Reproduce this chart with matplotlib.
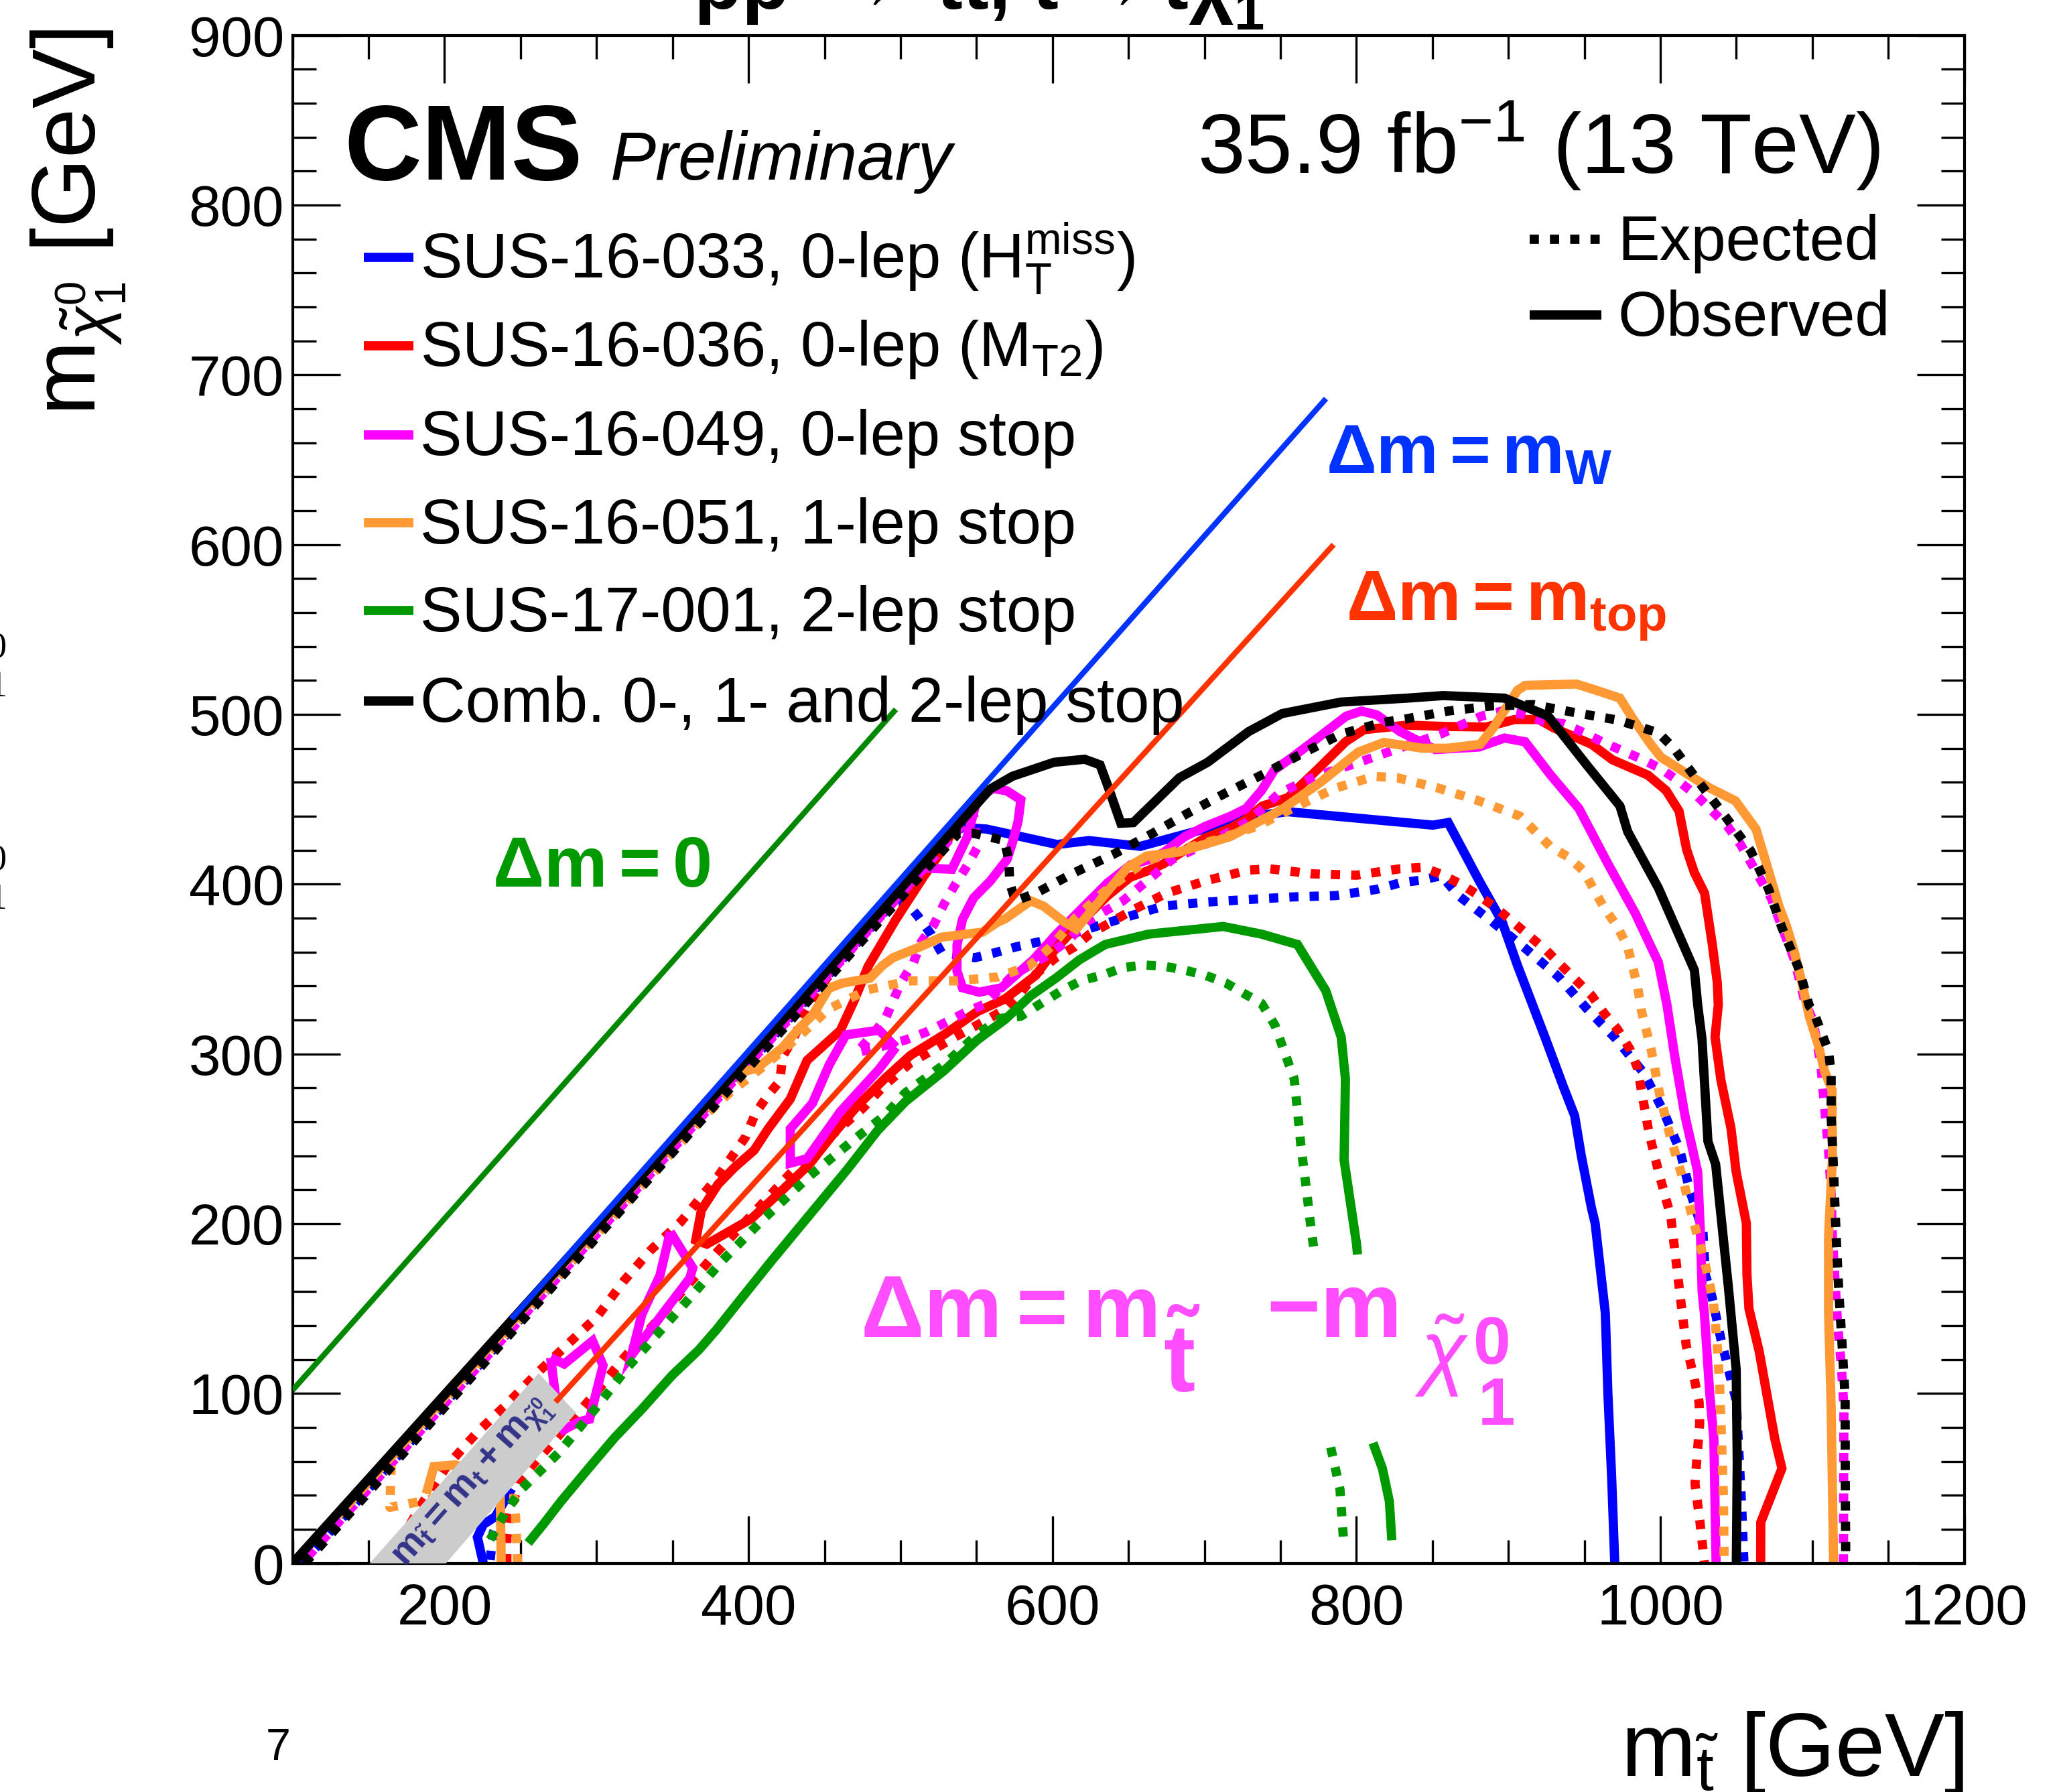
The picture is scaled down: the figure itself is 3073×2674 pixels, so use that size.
import matplotlib
matplotlib.use('Agg')
import matplotlib.pyplot as plt
from matplotlib.ticker import MultipleLocator
from matplotlib.patches import Polygon

plt.rcParams['font.family'] = ['Liberation Sans', 'DejaVu Sans']
plt.rcParams['mathtext.fontset'] = 'custom'
plt.rcParams['mathtext.rm'] = 'Liberation Sans'
plt.rcParams['mathtext.it'] = 'Liberation Sans:italic'
plt.rcParams['mathtext.bf'] = 'Liberation Sans:bold'
plt.rcParams['mathtext.sf'] = 'Liberation Sans'

# ---------------- data (GeV) ----------------
# SUS-16-033 (blue)
BLUE_OBS_X = [240, 530, 540.8, 556.6, 603, 624.1, 657.8, 700, 725.3, 754.8, 850.3, 860.4, 880.6, 895.8,
              905.9, 924.5, 936.2, 943.6, 948, 954.7, 957.1, 963.8, 965.5, 968, 970]
BLUE_OBS_Y = [138, 428, 433.4, 432.5, 423.4, 425.7, 422.3, 432.5, 439.3, 442.7, 434.8, 436.3, 402.3, 378.1,
              352.4, 308.9, 280.7, 263.7, 240, 209.2, 200.3, 147.4, 100, 50, 0]
BLUE_OBS2_X = [225.5, 221.6, 225.5, 233.4, 244.2]
BLUE_OBS2_Y = [0, 15.4, 22.9, 27.5, 44]
BLUE_EXP_X = [106, 495, 503.4, 511.8, 520.3, 527, 548.9, 562.4, 575.6, 590.8, 617.8, 644.7, 673.5, 702.1,
              729.1, 757.8, 786.5, 813.5, 828.7, 841.8, 856, 867.1, 889.1, 911, 932.9, 951.5, 970.6, 989.2,
              1001.8, 1012.8, 1019.5, 1028, 1029.6, 1033.9, 1039.8, 1046.5, 1049.9, 1052, 1053.7, 1055]
BLUE_EXP_Y = [0, 389, 389.9, 380.8, 370.3, 359.7, 356.7, 359.7, 363, 366, 372.1, 379.6, 387.2, 389.5,
              391, 392.5, 393.3, 397, 400.8, 402.3, 405, 393.3, 378.1, 362.3, 345.6, 326.8, 309.1, 288.7,
              266.8, 243.4, 219.2, 195.8, 170.1, 157.2, 132.3, 108.2, 96, 60, 30, 0]
BLUE_EXP2_X = [230, 232, 238, 247]
BLUE_EXP2_Y = [2, 18, 32, 46]

# SUS-16-036 (red)
RED_OBS_X = [536, 528, 515.2, 497, 478.7, 469.5, 460.4, 438.5, 427.5, 412.9, 403.7, 390.9, 379.9, 369,
             365.3, 372.6, 401.9, 420.2, 440, 455, 471.3, 489.9, 506.7, 528.7, 550.6, 568.9, 589.1, 602,
             619, 636, 651, 663, 673, 687, 700, 717, 727, 738, 755, 776, 793, 805, 833.4, 858.7, 885.6,
             904, 920, 930, 954.8, 968.4, 991.9, 1003.8, 1012.3, 1017.3, 1022.4, 1029.1, 1034.2, 1037.5,
             1038.1, 1036, 1039.8, 1046.5, 1049.9, 1056.6, 1057, 1058.3, 1065, 1070, 1075.3, 1080,
             1072.3, 1066.1, 1066]
RED_OBS_Y = [434, 420.8, 404.4, 379.3, 351.6, 331.4, 313.8, 296.2, 273.5, 255.9, 243.3, 233.3, 223.2, 208.1,
             190.4, 188, 203, 218.1, 235, 252, 269.1, 285.7, 299.3, 311.4, 325, 332.5, 346.4, 362,
             378, 393, 404, 408, 412, 420, 427, 433, 438, 446, 451, 469, 484, 491, 493.7, 492.9, 492.6,
             497, 497, 492, 482.4, 473.3, 464.2, 455.2, 443.1, 420.4, 406.8, 394.7, 364.5, 341.9,
             328.7, 310, 284.9, 256.2, 230.5, 200.3, 170, 150, 125, 100, 73.5, 55.9,
             38.3, 24.2, 0]
RED_EXP_UP_X = [170, 176.3, 186.2, 201.9, 221.6, 241.3, 261, 280.6, 300.4, 318.1, 335.8, 355.5, 380, 398,
                404.7, 412.3, 420.7, 422.4, 430, 435.9, 442.6, 456, 468]
RED_EXP_UP_Y = [0, 21.4, 36.6, 57.7, 77.3, 94, 112.1, 128.7, 145.3, 166.5, 184.6, 201.2, 228, 251,
                265.3, 275.1, 284.2, 298.5, 309.8, 321.9, 332.5, 350.6, 362]
RED_EXP_X = [241, 241, 243, 250, 272, 298, 318, 338, 357, 381, 405, 430, 452, 474.7, 490, 506.7, 535.5,
             557.4, 568.9, 579, 589, 602.6, 614.4, 624.5, 651.5, 675.1, 702.1, 729.1, 742.6, 771.3, 800,
             828.7, 843.4, 855.3, 868.8, 880.6, 892.4, 902.5, 914.4, 924.5, 934.6, 944.7, 954.9, 963.3,
             971.7, 979.9, 985, 987.5, 992.6, 999.3, 1006.9, 1010.3, 1013.6, 1017, 1022, 1025.5, 1025.9,
             1024.3, 1022.8, 1026, 1029]
RED_EXP_Y = [0, 15, 30, 50, 72, 99, 121, 141, 161, 185, 208, 232, 250, 267.6, 282, 294.8, 309.8,
             320.4, 326.5, 336, 347, 357, 363, 370.6, 384.2, 394.7, 402.3, 408.3, 409.1, 406.1, 405.3,
             409.1, 409.9, 406.1, 400, 393.3, 385.7, 378.1, 369, 361.5, 352.4, 343.4, 334.3, 323.7,
             314.7, 303, 291.7, 278.8, 253.2, 229, 204.1, 178.4, 153.5, 128.5, 110, 95, 82.3,
             64.7, 47.1, 25, 0]

# SUS-16-049 (magenta)
MAG_OBS_X = [100, 515.2, 533.8, 543.9, 550.6, 560.8, 570, 579.2, 577.4, 573.7, 570.1, 559.1, 548.1, 540.8,
             537.2, 537.2, 540.8, 551.8, 566.4, 587.4, 602.6, 619.4, 636.3, 651.5, 663.3, 673.5, 687,
             700.4, 717.3, 727.4, 737.6, 746, 757.8, 771.3, 793.3, 803.4, 813.5, 828.7, 851.9, 880.6,
             897.5, 911, 927.9, 946.4, 965, 983.6, 998.7, 1004.4, 1009.5, 1016.2, 1024.6, 1026.5, 1027.5,
             1029, 1032.5, 1035.2, 1036.7]
MAG_OBS_Y = [0, 409.5, 408.8, 427.7, 450.4, 456.4, 455, 449.7, 437.1, 424.6, 414.5, 401.9, 391.9, 379.3,
             364.1, 349, 339, 336.4, 339, 355.5, 370.6, 385.7, 400.8, 411.4, 414.4, 418.9, 428,
             434, 440.1, 444.6, 455.2, 467.3, 474.8, 483.9, 499, 502, 499.7, 489.9, 479.3, 480.8,
             486.1, 483.9, 464.2, 444.6, 412.9, 382.7, 354, 328.7, 298.5, 263.7, 230.5, 192, 160,
             147, 100, 73.5, 0]
MAG_ISL_A_X = [497, 486, 464.1, 453.1, 442.1, 427.5, 427.5, 438.5, 460.4, 486, 497]
MAG_ISL_A_Y = [304, 314, 311.3, 293.6, 271, 255.9, 235.7, 238.3, 266, 291.1, 304]
MAG_ISL_B_X = [348.5, 363.3, 361.4, 331.8, 323, 329.9, 341.7, 348.5]
MAG_ISL_B_Y = [195.2, 174, 168, 133.2, 122.6, 146.8, 169.5, 195.2]
MAG_ISL_C_X = [269.8, 278.7, 297.4, 304.3, 295.4, 288.5, 278.7, 272.8, 269.8]
MAG_ISL_C_Y = [121.1, 117.4, 131, 116.6, 84.9, 83.4, 78.8, 100, 121.1]
MAG_EXP_X = [110, 548, 550.6, 543.9, 535.5, 528.7, 522, 513.5, 508.5, 500, 495, 489.9, 479.8, 471.3,
             490, 503.4, 516.9, 530.4, 543.9, 555.7, 573.9, 597.5, 611, 622.8, 646.4, 666.7, 678.5,
             703.8, 729.1, 749.4, 773, 801.7, 830.4, 855.3, 868.8, 882.3, 895.8, 910, 922.8, 936.3,
             949.8, 961.6, 975.1, 988.6, 1000.4, 1012.3, 1024.1, 1034.2, 1044.3, 1052.8, 1059.5, 1066.2,
             1073, 1078, 1083.1, 1088.2, 1094.9, 1100.5, 1105.6, 1108.1, 1110.7, 1112.4, 1113.2, 1114.9,
             1116.6, 1119.1, 1120.8, 1120.5]
MAG_EXP_Y = [4, 442, 421.7, 411, 399, 388.4, 376.3, 365.7, 353.7, 341.6, 331, 320.4, 309.8, 300.8,
             305, 308.3, 312.9, 318.9, 325, 329.5, 346.4, 358.5, 367.5, 378.1, 390.2, 405.3, 414.4,
             424.9, 437.1, 453.7, 463.5, 471.8, 480.8, 488.4, 493.7, 499, 502, 500, 496, 494.5,
             489.2, 483.9, 478.6, 473.3, 468, 460.5, 452.1, 443.1, 434, 423.4, 412.9, 402.3,
             391.7, 379.6, 367.5, 355.5, 331.3, 319.6, 294, 268.3, 243.4, 217.7, 192.7, 167.1,
             141.4, 116.4, 91.8, 0]

# SUS-16-051 (orange)
ORA_OBS_X = [130, 390, 405.6, 422.4, 432.6, 442.6, 452.8, 461.2, 479.8, 488.2, 495, 511.8, 527, 554,
             564.2, 568.8, 585.7, 594.1, 607.2, 615.6, 628.3, 649.4, 662, 683.1, 716.8, 750.6, 775.9,
             801.2, 818.1, 843.4, 860.3, 881.4, 890, 905.9, 911, 944.8, 958.2, 973.4, 981.9, 993.7,
             1000.4, 1019, 1032.5, 1049.4, 1062.9, 1068, 1073, 1078, 1083.1, 1088.2, 1093.2, 1098,
             1104, 1108, 1113, 1113.2, 1110.7, 1110.7, 1112.4, 1114]
ORA_OBS_Y = [28, 288, 291.7, 303.8, 314.4, 323.4, 338.6, 341.6, 344.6, 352.1, 356.7, 362.7, 368.8, 371.8,
             377.8, 379.6, 390.2, 387.1, 378.1, 373.6, 387.2, 409.9, 416.6, 418.9, 428, 443.8, 459.7,
             477.8, 483.5, 480.1, 480.1, 482.4, 492, 514.1, 517.1, 517.9, 514.1, 509.6, 497.5, 482.4,
             474.8, 464.2, 456.7, 449.1, 432.5, 417.4, 402.3, 387.2, 375.1, 360, 341.9, 322.2,
             305, 290, 278.8, 238.1, 192.7, 147.4, 91.8, 0]
ORA_OBS2_X = [188, 193, 207, 236.5, 237.3]
ORA_OBS2_Y = [41, 57, 58, 50, 0]
ORA_EXP_X = [248, 247, 246, 205, 164, 165, 360, 368.5, 388.7, 410.6, 432.5, 452.8, 478.1, 506.7, 537.1,
             564.2, 585, 600, 615, 632.9, 660, 678.5, 708.9, 734.2, 761.2, 786.5, 811.8, 827, 840.1,
             853.6, 867.1, 880.6, 894.1, 907.6, 917.8, 927.9, 939.7, 949.8, 956.6, 963.3, 971.7, 978.5,
             981.9, 985.2, 987.5, 994.2, 999.3, 1006, 1014.5, 1021.2, 1028.8, 1034.8, 1037.3, 1039,
             1040, 1041.5, 1042]
ORA_EXP_Y = [0, 23, 38, 40, 33, 62, 252, 261.5, 278.1, 293.2, 309.8, 326.5, 337.8, 343.1, 343.1,
             345.4, 352, 364, 380, 394.7, 412.9, 418.9, 426.5, 434, 446.1, 456.7, 463.5, 462.7, 459.7,
             456.7, 452.9, 449.1, 444.6, 440.1, 431, 421.9, 415.9, 407.6, 396.2, 385.7, 375.1, 363,
             350.9, 338.9, 325.7, 301.5, 277.3, 253.2, 227.5, 203.3, 179.1, 155, 130.8, 105.1,
             80, 40, 0]

# SUS-17-001 (green)
GRN_OBS_X = [255, 264.9, 276.7, 296.4, 312.2, 329.9, 349.6, 367.3, 379.1, 392.5, 415, 440, 465, 485,
             503.4, 528.7, 550.6, 568.9, 585.7, 602.6, 617.8, 634.7, 663.3, 712.3, 737.6, 761.2, 779.8,
             790, 792.8, 791.9, 800.1, 800.7]
GRN_OBS_Y = [12, 22.9, 36.6, 57.7, 74.3, 90.9, 110.6, 125.7, 137.8, 152.9, 178, 205, 232, 255,
             272.1, 290.2, 308.3, 320.4, 334.3, 344.9, 355.5, 364.5, 370.6, 375.1, 370.6, 364.5, 337.4,
             310, 285.2, 237.6, 188.1, 181.9]
GRN_OBS2_X = [810.9, 817.1, 821.7, 823.3]
GRN_OBS2_Y = [70.9, 55.9, 36.5, 13.6]
GRN_EXP_X = [230, 240, 251, 275, 300, 320, 340, 359, 383, 410, 440, 470, 490, 503, 529, 551, 566, 579,
             592.5, 606, 619.4, 632.9, 646.4, 660, 673.5, 687, 700.4, 713.9, 725.7, 737.6, 746.4, 752.7,
             759.1, 761.2, 763.5, 766.6, 769.6, 772.2]
GRN_EXP_Y = [14, 30, 44, 65, 92, 115, 135, 154, 178.5, 203, 228, 250, 264, 277, 294, 312, 321, 322.2,
             329.8, 337.3, 343.4, 346.4, 350.9, 352.4, 351.7, 349.4, 346.4, 341.9, 335.8, 329.8, 316.9, 301.1,
             285.2, 267.1, 246, 224.1, 201.4, 183.7]
GRN_EXP2_X = [783.1, 789.2, 791.4]
GRN_EXP2_Y = [68.3, 43.6, 15.4]

# Combination (black)
BLK_OBS_X = [100, 550, 559.1, 573.7, 601, 621.2, 631.3, 636.3, 645, 653.2, 683.5, 702.1, 729.1, 751.1,
             789.9, 833.4, 857, 897.5, 926.2, 951.5, 973.4, 978.5, 998.7, 1022.4, 1024.6, 1027.4, 1031.3,
             1036.4, 1044.8, 1049.9, 1050.6, 1050]
BLK_OBS_Y = [0, 447, 456.1, 463.6, 471.8, 473.6, 470.3, 458.2, 435.9, 436.3, 462.7, 471.8, 489.9, 500.5,
             507.3, 509.6, 511.1, 509.6, 499, 470.3, 446.1, 431, 397.8, 349.4, 328.7, 308.9, 248.6,
             235, 162.5, 114.2, 60, 0]
BLK_EXP_X = [108, 538, 548, 568.3, 571.3, 571.9, 575.6, 589.1, 614.4, 639.7, 665, 688.6, 713.9, 739.2,
             764.5, 789.9, 816.9, 833.4, 860.4, 889.1, 916.1, 943.1, 971.7, 998.7, 1008.9, 1025.7, 1042.6,
             1059.5, 1071.3, 1079.7, 1091.5, 1098, 1100.5, 1110.7, 1112.4, 1112.4, 1113.7, 1114.8, 1116,
             1117.4, 1119.1, 1120.8, 1121.6, 1121.7, 1122]
BLK_EXP_Y = [0, 430, 430, 425.8, 414.4, 400.7, 390.2, 394.7, 406.8, 417.4, 429.5, 441.6, 453.7, 465,
             477.1, 488.4, 495.2, 497.5, 502, 505, 505.8, 501.2, 496.7, 489.2, 480.1, 459.7, 440.1,
             419.6, 397, 375.1, 349.4, 328.3, 325.7, 301.5, 288.7, 263, 237.3, 212.4, 186.7,
             161, 136.1, 110.4, 97.6, 50, 0]

# reference lines and band
DM0_X, DM0_Y = [100, 497], [102, 503]
DMW_X, DMW_Y = [244, 780], [144, 686]
DMT_X, DMT_Y = [273, 785], [95, 600]
BAND_X = [150.7, 200.9, 286.5, 261.9]
BAND_Y = [0, 0, 88.7, 112]

LEG_LABELS = [r'SUS-16-033, 0-lep (H$_{\mathrm{T}}^{\mathrm{miss}}$)',
              r'SUS-16-036, 0-lep (M$_{\mathrm{T2}}$)',
              'SUS-16-049, 0-lep stop',
              'SUS-16-051, 1-lep stop',
              'SUS-17-001, 2-lep stop',
              'Comb. 0-, 1- and 2-lep stop']
COLORS = ['#0000ff', '#ff0000', '#ff00ff', '#ff9933', '#009900', '#000000']

XTICKS = [200, 400, 600, 800, 1000, 1200]
YTICKS = [0, 100, 200, 300, 400, 500, 600, 700, 800, 900]

# ---------------- figure ----------------
W, H = 3073, 2674
fig = plt.figure(figsize=(W / 300, H / 300), dpi=300)
L, R, B, T = 0.1421, 0.9540, 0.1276, 0.9803
ax = fig.add_axes([L, B, R - L, T - B])
ax.set_xlim(100, 1200)
ax.set_ylim(0, 900)

LW = 3.3
DOT = (0, (1, 1.2))

def curve(x, y, c, dotted=False, z=2):
    ax.plot(x, y, color=c, lw=LW, ls=DOT if dotted else '-', zorder=z,
            dash_capstyle='butt', solid_joinstyle='miter', solid_capstyle='butt')

# blue
curve(BLUE_EXP_X, BLUE_EXP_Y, COLORS[0], True)
curve(BLUE_EXP2_X, BLUE_EXP2_Y, COLORS[0], True)
curve(BLUE_OBS_X, BLUE_OBS_Y, COLORS[0])
curve(BLUE_OBS2_X, BLUE_OBS2_Y, COLORS[0])
# red
curve(RED_EXP_UP_X, RED_EXP_UP_Y, COLORS[1], True)
curve(RED_EXP_X, RED_EXP_Y, COLORS[1], True)
curve(RED_OBS_X, RED_OBS_Y, COLORS[1])
# magenta
curve(MAG_EXP_X, MAG_EXP_Y, COLORS[2], True)
curve(MAG_OBS_X, MAG_OBS_Y, COLORS[2])
curve(MAG_ISL_A_X, MAG_ISL_A_Y, COLORS[2])
curve(MAG_ISL_B_X, MAG_ISL_B_Y, COLORS[2])
curve(MAG_ISL_C_X, MAG_ISL_C_Y, COLORS[2])
# orange
curve(ORA_EXP_X, ORA_EXP_Y, COLORS[3], True)
curve(ORA_OBS_X, ORA_OBS_Y, COLORS[3])
curve(ORA_OBS2_X, ORA_OBS2_Y, COLORS[3])
# green
curve(GRN_EXP_X, GRN_EXP_Y, COLORS[4], True)
curve(GRN_EXP2_X, GRN_EXP2_Y, COLORS[4], True)
curve(GRN_OBS_X, GRN_OBS_Y, COLORS[4])
curve(GRN_OBS2_X, GRN_OBS2_Y, COLORS[4])
# black
curve(BLK_EXP_X, BLK_EXP_Y, COLORS[5], True)
curve(BLK_OBS_X, BLK_OBS_Y, COLORS[5])

# grey band
ax.add_patch(Polygon(list(zip(BAND_X, BAND_Y)), closed=True, facecolor='#cccccc',
                     edgecolor='none', zorder=5))
ax.text(219, 47, r'$\mathbf{m_{\tilde{t}} = m_{t} + m_{\tilde{\chi}^{0}_{1}}}$', color='#333388',
        fontsize=13.5, rotation=48.4, rotation_mode='anchor', ha='center', va='center', zorder=7)

# guide lines
ax.plot(DM0_X, DM0_Y, color='#008800', lw=2.0, zorder=6, solid_capstyle='butt')
ax.plot(DMW_X, DMW_Y, color='#0033ff', lw=2.0, zorder=6, solid_capstyle='butt')
ax.plot(DMT_X, DMT_Y, color='#ff3300', lw=2.0, zorder=6, solid_capstyle='butt')

ax.text(231.5, 398.7, r'$\mathbf{\Delta m=0}$', color='#009900', fontsize=25.5, zorder=8)
ax.text(780, 642, r'$\mathbf{\Delta m=m_{W}}$', color='#0033ff', fontsize=25, zorder=8)
ax.text(793, 555.7, r'$\mathbf{\Delta m=m_{top}}$', color='#ff3300', fontsize=25.5, zorder=8)

MAGTXT = '#ff4dff'
ax.text(473.4, 133.3, r'$\mathbf{\Delta m=m}$', color=MAGTXT, fontsize=31.5, zorder=8)
ax.text(673, 101, r'$\mathbf{\tilde{t}}$', color=MAGTXT, fontsize=34, zorder=8)
ax.text(741, 133.3, '\u2212m', color=MAGTXT, fontsize=33, fontweight='bold', zorder=8)
ax.text(838, 108, r'$\tilde{\chi}$', color=MAGTXT, fontsize=30, zorder=8)
ax.text(877, 117.6, '0', color=MAGTXT, fontsize=24, fontweight='bold', zorder=8)
ax.text(880, 81.5, '1', color=MAGTXT, fontsize=24, fontweight='bold', zorder=8)

# axes styling
for s in ax.spines.values():
    s.set_linewidth(1.0)
ax.set_xticks(XTICKS)
ax.set_yticks(YTICKS)
ax.xaxis.set_minor_locator(MultipleLocator(50))
ax.yaxis.set_minor_locator(MultipleLocator(20))
ax.tick_params(which='both', direction='in', top=True, right=True, width=0.8)
ax.tick_params(which='major', length=17)
ax.tick_params(which='minor', length=8.5)
ax.tick_params(axis='x', labelsize=20.5, pad=7)
ax.tick_params(axis='y', labelsize=20.5, pad=3)

# CMS labels
ax.text(0.0308, 0.9054, 'CMS', transform=ax.transAxes, fontsize=38.5, fontweight='bold', va='baseline')
ax.text(0.1902, 0.9054, 'Preliminary', transform=ax.transAxes, fontsize=24.5, style='italic', va='baseline')
ax.text(0.9497, 0.9099, r'35.9 fb$^{-1}$ (13 TeV)', transform=ax.transAxes, fontsize=30.5,
        ha='right', va='baseline')

# legend (analyses)
key_x0, key_x1, txt_x = 0.0426, 0.0724, 0.0763
rows = [0.8547, 0.7970, 0.7386, 0.6810, 0.6235, 0.5642]
for lab, col, yc in zip(LEG_LABELS, COLORS, rows):
    ax.plot([key_x0, key_x1], [yc, yc], transform=ax.transAxes, color=col, lw=LW,
            solid_capstyle='butt', clip_on=False, zorder=9)
    ax.text(txt_x, yc - 0.0135, lab, transform=ax.transAxes, fontsize=22.5, va='baseline', zorder=9)

# legend (expected / observed)
for yc, ls, lab in [(0.8666, DOT, 'Expected'), (0.8168, '-', 'Observed')]:
    ax.plot([0.740, 0.783], [yc, yc], transform=ax.transAxes, color='black', lw=LW, ls=ls,
            dash_capstyle='butt', solid_capstyle='butt', clip_on=False, zorder=9)
    ax.text(0.7926, yc - 0.0135, lab, transform=ax.transAxes, fontsize=22.5, va='baseline', zorder=9)

# axis titles
fig.text(0.9541, 0.0091, r'm$_{\tilde{\mathrm{t}}}$ [GeV]', fontsize=32, ha='right', va='baseline')
fig.text(0.0465, 0.9840, r'm$_{\tilde{\chi}^{0}_{1}}$ [GeV]', fontsize=32, rotation=90,
         rotation_mode='anchor', ha='right', va='baseline')

# cropped title at the very top, stray page number and fragments of the neighbouring page
fig.text(0.3367, 0.9948, r'pp $\mathbf{\rightarrow}$ $\mathbf{\tilde{t}\tilde{t}}$, $\mathbf{\tilde{t}}$'
         r'$\mathbf{\rightarrow}$t$\mathbf{\tilde{\chi}^{0}_{1}}$', fontsize=28, fontweight='bold',
         ha='left', va='baseline')
fig.text(0.1352, 0.0179, '7', fontsize=16, ha='center', va='baseline')
for fy, ch in [(0.6335, '0'), (0.6116, '1'), (0.5148, '0'), (0.4928, '1')]:
    fig.text(-0.0055, fy, ch, fontsize=13, family='Liberation Serif', ha='left', va='baseline')

fig.savefig('out.png', dpi=300)
